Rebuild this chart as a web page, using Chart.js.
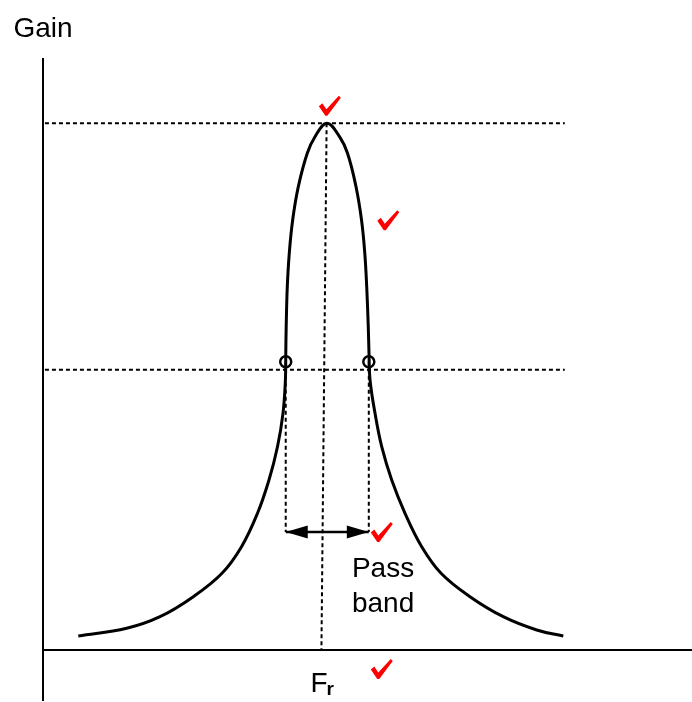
<!DOCTYPE html>
<html>
<head>
<meta charset="utf-8">
<script src="https://cdn.jsdelivr.net/npm/chart.js@4"></script>
<style>
  html, body { margin: 0; padding: 0; background: #fff; }
  canvas { display: block; }
</style>
</head>
<body>
<canvas id="chart" width="692" height="702"></canvas>
<script>
// resonance curve, gain vs frequency (arbitrary units, peak gain = 100)
const freq = [5.44, 12.9, 18.03, 23.16, 27.58, 30.59, 33.05, 34.82, 36.13, 36.98, 37.35, 37.41, 37.47,
              37.64, 37.95, 38.47, 39.34, 40.72, 41.91, 43.76,
              45.69, 46.92, 48.23, 49.08, 49.58, 49.88, 50.12, 50.23, 50.39, 51.16, 52.19, 53.73,
              55.78, 58.35, 61.33, 65.79, 70.92, 76.07, 80.17];
const gain = [2.66, 4.12, 6.32, 10.12, 14.56, 19.61, 25.95, 32.27, 38.59, 44.93, 51.25, 56.38, 61.31,
              68.91, 75.36, 81.63, 87.95, 94.29, 97.44, 100,
              97.44, 94.29, 87.95, 81.63, 75.36, 68.91, 61.31, 56.38, 51.25, 44.93, 38.59, 32.27,
              25.95, 19.61, 14.56, 10.12, 6.32, 3.8, 2.66];

// band edges (the two circled points) and the dotted guide levels
const edgeFreq = [37.4, 50.2];
const edgeGain = 54.7;
const guideLevels = [100, 53.2];
const guideSpan = [0.3, 80.4];
const frTop = [43.7, 100];
const frBottom = [42.9, 0];
const bandLevel = 22.4;

const ink = '#000';
const font = '"Liberation Sans", Arial, sans-serif';

const dotted = { borderColor: ink, borderWidth: 2, borderDash: [4, 3], pointRadius: 0, tension: 0, fill: false };

const datasets = [];
guideLevels.forEach(g => {
  datasets.push({ ...dotted, data: [{ x: guideSpan[0], y: g }, { x: guideSpan[1], y: g }] });
});
datasets.push({ ...dotted, data: [{ x: frTop[0], y: frTop[1] }, { x: frBottom[0], y: frBottom[1] }] });
edgeFreq.forEach(f => {
  datasets.push({ ...dotted, data: [{ x: f, y: edgeGain }, { x: f, y: bandLevel }] });
});
// pass band arrow shaft
datasets.push({
  borderColor: ink, borderWidth: 2.5, pointRadius: 0, fill: false,
  data: [{ x: edgeFreq[0], y: bandLevel }, { x: edgeFreq[1], y: bandLevel }]
});
datasets.push({
  borderColor: ink, borderWidth: 3, pointRadius: 0, tension: 0.4, fill: false,
  data: freq.map((f, i) => ({ x: f, y: gain[i] }))
});
datasets.push({
  showLine: false, pointRadius: 5.5, pointBorderWidth: 2.5,
  pointBorderColor: ink, pointBackgroundColor: '#fff',
  data: edgeFreq.map(f => ({ x: f, y: edgeGain }))
});

// little red tick marks
const ticks = [[44.2, 103.3], [53.2, 81.6], [52.2, 22.4], [52.2, -3.6]];

function drawTick(ctx, cx, cy) {
  ctx.beginPath();
  ctx.moveTo(cx - 11, cy + 0.5);
  ctx.lineTo(cx - 7.5, cy - 2.5);
  ctx.lineTo(cx - 3.5, cy + 3.5);
  ctx.lineTo(cx + 9, cy - 10);
  ctx.lineTo(cx + 11, cy - 8);
  ctx.lineTo(cx - 2.5, cy + 10);
  ctx.lineTo(cx - 4.5, cy + 10);
  ctx.closePath();
  ctx.fillStyle = '#ff0000';
  ctx.fill();
}

function arrowHead(ctx, x, y, dir) {
  ctx.beginPath();
  ctx.moveTo(x, y);
  ctx.lineTo(x + dir * 22, y - 6.5);
  ctx.lineTo(x + dir * 22, y + 6.5);
  ctx.closePath();
  ctx.fillStyle = ink;
  ctx.fill();
}

const decorations = {
  id: 'decorations',
  afterDraw(chart) {
    const { ctx, chartArea, scales: { x, y } } = chart;
    ctx.save();

    // axes
    ctx.strokeStyle = ink;
    ctx.lineWidth = 2;
    ctx.beginPath();
    ctx.moveTo(x.getPixelForValue(0), 58);
    ctx.lineTo(x.getPixelForValue(0), 701);
    ctx.moveTo(chartArea.left, y.getPixelForValue(0));
    ctx.lineTo(chartArea.right, y.getPixelForValue(0));
    ctx.stroke();

    const by = y.getPixelForValue(bandLevel);
    arrowHead(ctx, x.getPixelForValue(edgeFreq[0]), by, 1);
    arrowHead(ctx, x.getPixelForValue(edgeFreq[1]), by, -1);

    ticks.forEach(([tx, ty]) => drawTick(ctx, x.getPixelForValue(tx), y.getPixelForValue(ty)));

    ctx.fillStyle = ink;
    ctx.textBaseline = 'alphabetic';
    ctx.font = '28px ' + font;
    ctx.textAlign = 'center';
    ctx.fillText('Gain', x.getPixelForValue(0), y.getPixelForValue(116.4));

    ctx.textAlign = 'left';
    ctx.fillText('Pass', x.getPixelForValue(47.6), y.getPixelForValue(13.9));
    ctx.fillText('band', x.getPixelForValue(47.6), y.getPixelForValue(7.2));

    const fx = x.getPixelForValue(41.2);
    const fy = y.getPixelForValue(-8.0);
    ctx.fillText('F', fx, fy);
    const fw = ctx.measureText('F').width;
    ctx.font = 'bold 19px ' + font;
    ctx.fillText('r', fx + fw - 1, fy + 3);

    ctx.restore();
  }
};

new Chart(document.getElementById('chart'), {
  type: 'line',
  data: { datasets },
  options: {
    responsive: false,
    animation: false,
    layout: { autoPadding: false, padding: { left: 43, right: 0, top: 60, bottom: 52 } },
    scales: {
      x: { type: 'linear', min: 0, max: 100, display: false },
      y: { min: 0, max: 112, display: false }
    },
    plugins: { legend: { display: false }, tooltip: { enabled: false } }
  },
  plugins: [decorations]
});
</script>
</body>
</html>
